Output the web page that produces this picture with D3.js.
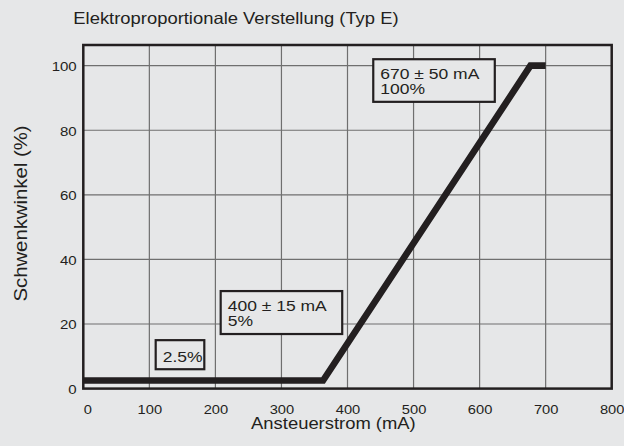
<!DOCTYPE html>
<html>
<head>
<meta charset="utf-8">
<script src="https://cdn.jsdelivr.net/npm/d3@7/dist/d3.min.js"></script>
<style>
  html, body { margin: 0; padding: 0; background: #e6e7e8; }
  svg { display: block; }
  text { font-family: "Liberation Sans", Arial, Helvetica, sans-serif; fill: #231f20; }
</style>
</head>
<body>
<svg id="chart" width="624" height="446"></svg>
<script>
// ---- data ----
const titleText = "Elektroproportionale Verstellung (Typ E)";
const xTitle = "Ansteuerstrom (mA)";
const yTitle = "Schwenkwinkel (%)";
const xTicks = [0, 100, 200, 300, 400, 500, 600, 700, 800];
const yTicks = [0, 20, 40, 60, 80, 100];
const curveCurrent = [0, 363, 677, 700];   // mA
const curveAngle   = [2.5, 2.5, 100, 100]; // %
const noteTexts = [["670 ± 50 mA", "100%"], ["400 ± 15 mA", "5%"], ["2.5%"]];

// ---- layout ----
const W = 624, H = 446;
const stretch = 1.13;
const plot = { left: 83.3, right: 611.7, top: 45, bottom: 388.6 };
const yMax = 106.4;
// annotation boxes in data units (x0, x1 in mA; y0, y1 in %)
const noteBoxes = [
  { x0: 439, x1: 623, y0: 88.8, y1: 102.0 },
  { x0: 208, x1: 392, y0: 16.9, y1: 30.2 },
  { x0: 109.6, x1: 183.2, y0: 6.0, y1: 15.0 }
];
const noteFont = 15.5, noteLead = 15.5;

const svg = d3.select("#chart");
svg.append("rect").attr("width", W).attr("height", H).attr("fill", "#e6e7e8");

const x = d3.scaleLinear().domain([0, 800]).range([plot.left, plot.right]);
const y = d3.scaleLinear().domain([0, yMax]).range([plot.bottom, plot.top]);

// gridlines
const grid = svg.append("g").attr("stroke", "#6f6f6f").attr("stroke-width", 1.2);
grid.selectAll("line.v").data(xTicks.filter(d => d > 0 && d < 800)).join("line")
  .attr("x1", d => x(d)).attr("x2", d => x(d))
  .attr("y1", plot.top).attr("y2", plot.bottom);
grid.selectAll("line.h").data(yTicks.filter(d => d > 0)).join("line")
  .attr("x1", plot.left).attr("x2", plot.right)
  .attr("y1", d => y(d)).attr("y2", d => y(d));

// annotation boxes
const notes = svg.append("g");
noteBoxes.forEach((b, i) => {
  const g = notes.append("g");
  g.append("rect")
    .attr("x", x(b.x0)).attr("y", y(b.y1))
    .attr("width", x(b.x1) - x(b.x0)).attr("height", y(b.y0) - y(b.y1))
    .attr("fill", "#e6e7e8").attr("stroke", "#231f20").attr("stroke-width", 2.2);
  const tx = x(b.x0) + 7, ty = y(b.y1) + 19.6 + (i === 2 ? 2 : 0);
  noteTexts[i].forEach((t, j) => {
    g.append("text")
      .attr("transform", `translate(${tx},${ty + j * noteLead}) scale(${stretch},1)`)
      .attr("font-size", noteFont)
      .text(t);
  });
});

// frame
svg.append("rect")
  .attr("x", plot.left).attr("y", plot.top)
  .attr("width", plot.right - plot.left).attr("height", plot.bottom - plot.top)
  .attr("fill", "none").attr("stroke", "#231f20").attr("stroke-width", 2.5);

// curve
const pts = curveCurrent.map((c, i) => [c, curveAngle[i]]);
svg.append("path")
  .attr("d", d3.line().x(d => x(d[0])).y(d => y(d[1]))(pts))
  .attr("fill", "none").attr("stroke", "#231f20")
  .attr("stroke-width", 6.6).attr("stroke-linejoin", "miter");

// x axis labels
const xAxis = svg.append("g").attr("transform", `translate(0,${plot.bottom})`)
  .call(d3.axisBottom(x).tickValues(xTicks).tickSize(0).tickFormat(d3.format("d")));
xAxis.select(".domain").remove();
xAxis.selectAll("text")
  .attr("y", 0).attr("dy", null)
  .attr("transform", d => `translate(${d === 0 ? 4 : 0},25) scale(${stretch},1)`)
  .attr("font-size", 13).attr("font-family", null).attr("fill", "#231f20");

// y axis labels
const yAxis = svg.append("g").attr("transform", `translate(76.7,0)`)
  .call(d3.axisLeft(y).tickValues(yTicks).tickSize(0).tickFormat(d3.format("d")));
yAxis.select(".domain").remove();
yAxis.selectAll("text")
  .attr("x", 0).attr("dy", "0.36em")
  .attr("transform", `scale(${stretch},1)`)
  .attr("font-size", 13.3).attr("font-family", null).attr("fill", "#231f20");

// title
svg.append("text")
  .attr("transform", `translate(73.3,24) scale(${stretch},1)`)
  .attr("font-size", 16.3).text(titleText);

// x title
svg.append("text")
  .attr("transform", `translate(${(250 + 416.8) / 2},429) scale(${stretch},1)`)
  .attr("text-anchor", "middle")
  .attr("font-size", 16.3).text(xTitle);

// y title
svg.append("text")
  .attr("transform", `translate(26.5,213.5) rotate(-90) scale(${stretch},1)`)
  .attr("text-anchor", "middle")
  .attr("font-size", 18).text(yTitle);
</script>
</body>
</html>
